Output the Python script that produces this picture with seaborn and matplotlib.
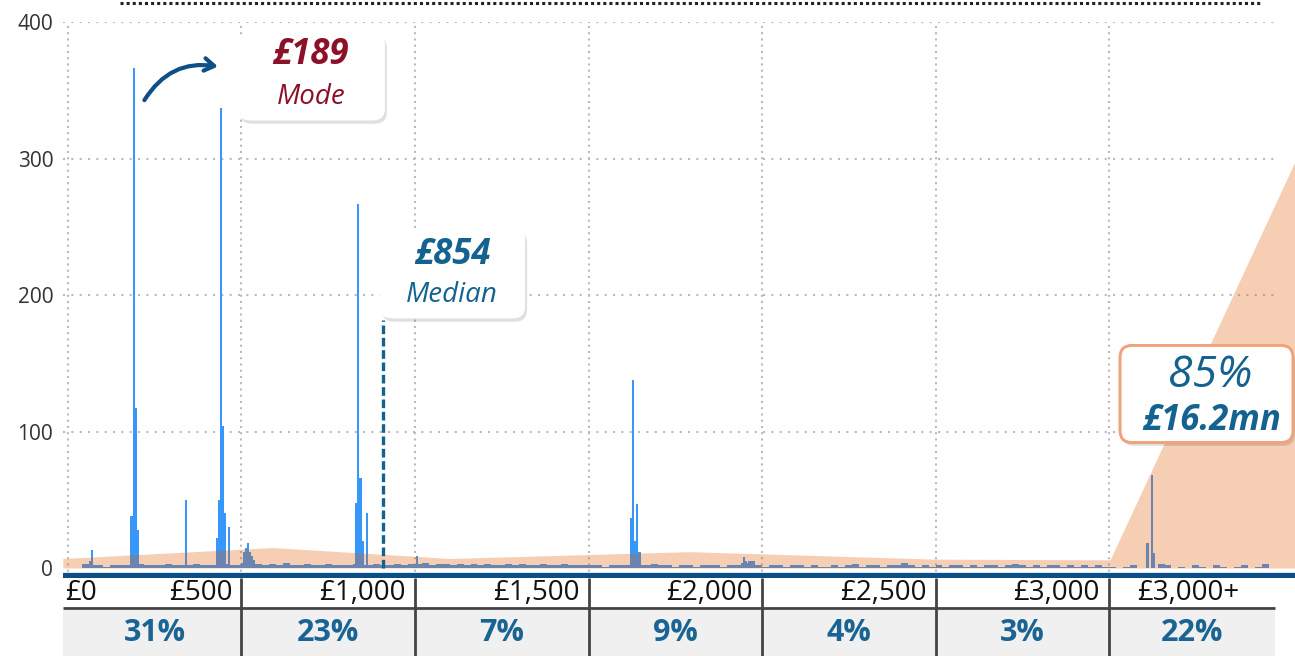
import numpy as np
import pandas as pd
import matplotlib
matplotlib.use("Agg")
import matplotlib.pyplot as plt
import matplotlib.patheffects as pe
from matplotlib.patches import FancyBboxPatch, Rectangle
from matplotlib.lines import Line2D
import seaborn as sns

# --- data ----------------------------------------------------------------
# tall spikes (price in £, count)
spike_x = [62, 66, 183, 189, 195, 200, 337, 428, 434, 440, 446, 452, 463,
           507, 513, 519, 525, 531, 830, 838, 843, 850, 858, 1003,
           1620, 1627, 1633, 1639, 1648, 1945, 1951, 3112, 3120, 3128]
spike_h = [5, 13, 38, 366, 117, 28, 50, 22, 50, 337, 104, 40, 30,
           12, 15, 18, 12, 9, 48, 267, 66, 20, 40, 9,
           37, 138, 20, 47, 12, 8, 5, 18, 68, 11]

# low "carpet" of counts, one value per £20 from £0 to £3,480
carpet_h = [
    0, 0, 3, 2, 2, 1, 2, 2, 2, 2, 3, 2, 2, 2, 3, 2, 2, 2, 3, 2, 2, 2, 3, 2, 2,
    4, 6, 3, 2, 3, 2, 4, 2, 2, 3, 2, 2, 3, 2, 2, 2, 3, 2, 2, 3, 2, 2, 3, 2, 3,
    3, 4, 2, 3, 3, 2, 3, 2, 3, 2, 3, 2, 2, 3, 2, 3, 2, 2, 3, 2, 2, 3, 2, 2, 2,
    2, 2, 1, 2, 2, 2, 0, 2, 2, 3, 2, 2, 1, 2, 2, 1, 2, 2, 2, 1, 2, 2, 4, 5, 2,
    1, 2, 2, 1, 2, 2, 1, 2, 1, 1, 2, 1, 2, 3, 1, 2, 2, 1, 2, 2, 4, 2, 1, 2, 1,
    2, 1, 2, 2, 1, 2, 1, 2, 2, 1, 2, 3, 2, 1, 2, 1, 2, 2, 1, 2, 1, 2, 1, 2, 1,
    1, 0, 1, 2, 0, 0, 0, 3, 2, 0, 1, 0, 2, 1, 0, 2, 1, 0, 1, 2, 0, 1, 3, 0,
]
carpet_x = np.arange(10, 3480, 20)

# orange share-of-value profile
share_x = [-15, 590, 1100, 1790, 2500, 3003, 3540]
share_y = [7, 15, 7, 12, 6.5, 6, 300]

tick_vals = [0, 500, 1000, 1500, 2000, 2500, 3000]
tick_labels = ["£0", "£500", "£1,000", "£1,500", "£2,000", "£2,500", "£3,000"]
band_edges = [0, 500, 1000, 1500, 2000, 2500, 3000, 3478]
band_pcts = ["31%", "23%", "7%", "9%", "4%", "3%", "22%"]

mode_val, median_val = "£189", "£854"
median_line_x = 908

# --- style ---------------------------------------------------------------
sns.set_style("white")
plt.rcParams['font.family'] = ['Open Sans', 'DejaVu Sans']

BLUE = "#3797fb"
NAVY = "#0b4f8a"
TXT_BLUE = "#14628f"
RED = "#8c1028"

W, H = 1295, 656
fig = plt.figure(figsize=(W / 100, H / 100), dpi=100)
ax = fig.add_axes([63 / W, 78 / H, 1232 / W, 556 / H])
xlim = (-14.4, 3536)
ylim = (-7.3, 400)

# gridlines
for v in [100, 200, 300, 400]:
    ax.hlines(v, xlim[0], 3478, color="#bbbbbb", lw=1.5, ls=(0, (1, 3)), zorder=0)
for v in tick_vals:
    ax.vlines(v, ylim[0], 400, color="#bbbbbb", lw=1.5, ls=(0, (1, 2)), zorder=0)

df_sp = pd.DataFrame({"price": spike_x, "n": spike_h})
df_cp = pd.DataFrame({"price": carpet_x, "n": carpet_h})
sns.histplot(data=df_cp, x="price", weights="n", binwidth=20, binrange=(0, 3480),
             color=BLUE, alpha=1, linewidth=0, ax=ax, zorder=2)
sns.histplot(data=df_sp, x="price", weights="n", binwidth=6, binrange=(0, 3540),
             color=BLUE, alpha=1, linewidth=0, ax=ax, zorder=2)

ax.fill_between(share_x, 0, share_y, color="#e15f05", alpha=0.3, lw=0, zorder=3)

ax.axhline(-5.1, color=NAVY, lw=3.8, zorder=6)
ax.vlines(median_line_x, 0, 182, color=TXT_BLUE, lw=2.4, ls=(0, (2.6, 1.1)), zorder=5)

ax.set_xlim(*xlim)
ax.set_ylim(*ylim)
ax.set_xlabel("")
ax.set_ylabel("")
ax.set_xticks([])
ax.set_yticks([0, 100, 200, 300, 400])
ax.tick_params(axis="y", length=0, pad=7, labelsize=15, labelcolor="#333333")
for s in ax.spines.values():
    s.set_visible(False)

# equal-pixel rounding for boxes in data coordinates
px_x = (xlim[1] - xlim[0]) / 1232
px_y = (ylim[1] - ylim[0]) / 556
m_aspect = px_y / px_x


def box(x0, x1, y0, y1, edge="none", lw=0):
    p = FancyBboxPatch((x0, y0), x1 - x0, y1 - y0,
                       boxstyle="round,pad=0,rounding_size=%f" % (12 * px_x),
                       mutation_aspect=m_aspect, fc="white", ec=edge, lw=lw,
                       zorder=7, clip_on=False)
    p.set_path_effects([pe.withSimplePatchShadow(offset=(1.5, -2.5), shadow_rgbFace="k", alpha=0.12),
                        pe.Normal()])
    ax.add_patch(p)


box(490, 913, 328, 392)
ax.text(700, 376, mode_val, color=RED, fontsize=25, fontweight="bold", fontstyle="italic",
        ha="center", va="center", zorder=8)
ax.text(700, 345, "Mode", color=RED, fontsize=20, fontstyle="italic",
        ha="center", va="center", zorder=8)
ax.annotate("", xy=(440, 367), xytext=(216, 341),
            arrowprops=dict(arrowstyle="->,head_length=0.7,head_width=0.45",
                            connectionstyle="arc3,rad=-0.35", color="#0d4f86", lw=3),
            zorder=8)

box(899, 1317, 183, 249)
ax.text(1107, 229, median_val, color=TXT_BLUE, fontsize=25, fontweight="bold",
        fontstyle="italic", ha="center", va="center", zorder=8)
ax.text(1107, 200, "Median", color=TXT_BLUE, fontsize=20, fontstyle="italic",
        ha="center", va="center", zorder=8)

box(3032, 3530, 92, 163, edge="#f0a27a", lw=2)
ax.text(3293, 141, "85%", color=TXT_BLUE, fontsize=32, fontstyle="italic",
        ha="center", va="center", zorder=8)
ax.text(3295, 108, "£16.2mn", color=TXT_BLUE, fontsize=25, fontweight="bold",
        fontstyle="italic", ha="center", va="center", zorder=8)

# --- table under the axis -------------------------------------------------
tax = fig.add_axes([63 / W, 0, 1232 / W, 78 / H])
tax.set_xlim(*xlim)
tax.set_ylim(78, 0)
tax.axis("off")
tax.add_patch(Rectangle((xlim[0], 32), band_edges[-1] - xlim[0], 46, color="#f0f0f0", lw=0))
tax.hlines(30, xlim[0], band_edges[-1], color="#444444", lw=2)
tax.vlines(tick_vals[1:], 0, 78, color="#444444", lw=2)
for v, lab in zip(tick_vals, tick_labels):
    if v == 0:
        tax.text(v - 8, 15, lab, ha="left", va="center", fontsize=20, color="#111111")
    else:
        tax.text(v - 26, 15, lab, ha="right", va="center", fontsize=20, color="#111111")
tax.text(3081, 15, "£3,000+", ha="left", va="center", fontsize=20, color="#111111")
for i, pct in enumerate(band_pcts):
    mid = (band_edges[i] + band_edges[i + 1]) / 2
    tax.text(mid, 55, pct, ha="center", va="center", fontsize=22, fontweight="bold",
             color="#1a6494")

# dotted top border
fig.add_artist(Line2D([120 / W, 1262 / W], [1 - 3 / H, 1 - 3 / H], color="#222222",
                      lw=2.2, ls=(0, (1, 1))))

fig.savefig("out.png", dpi=100)
